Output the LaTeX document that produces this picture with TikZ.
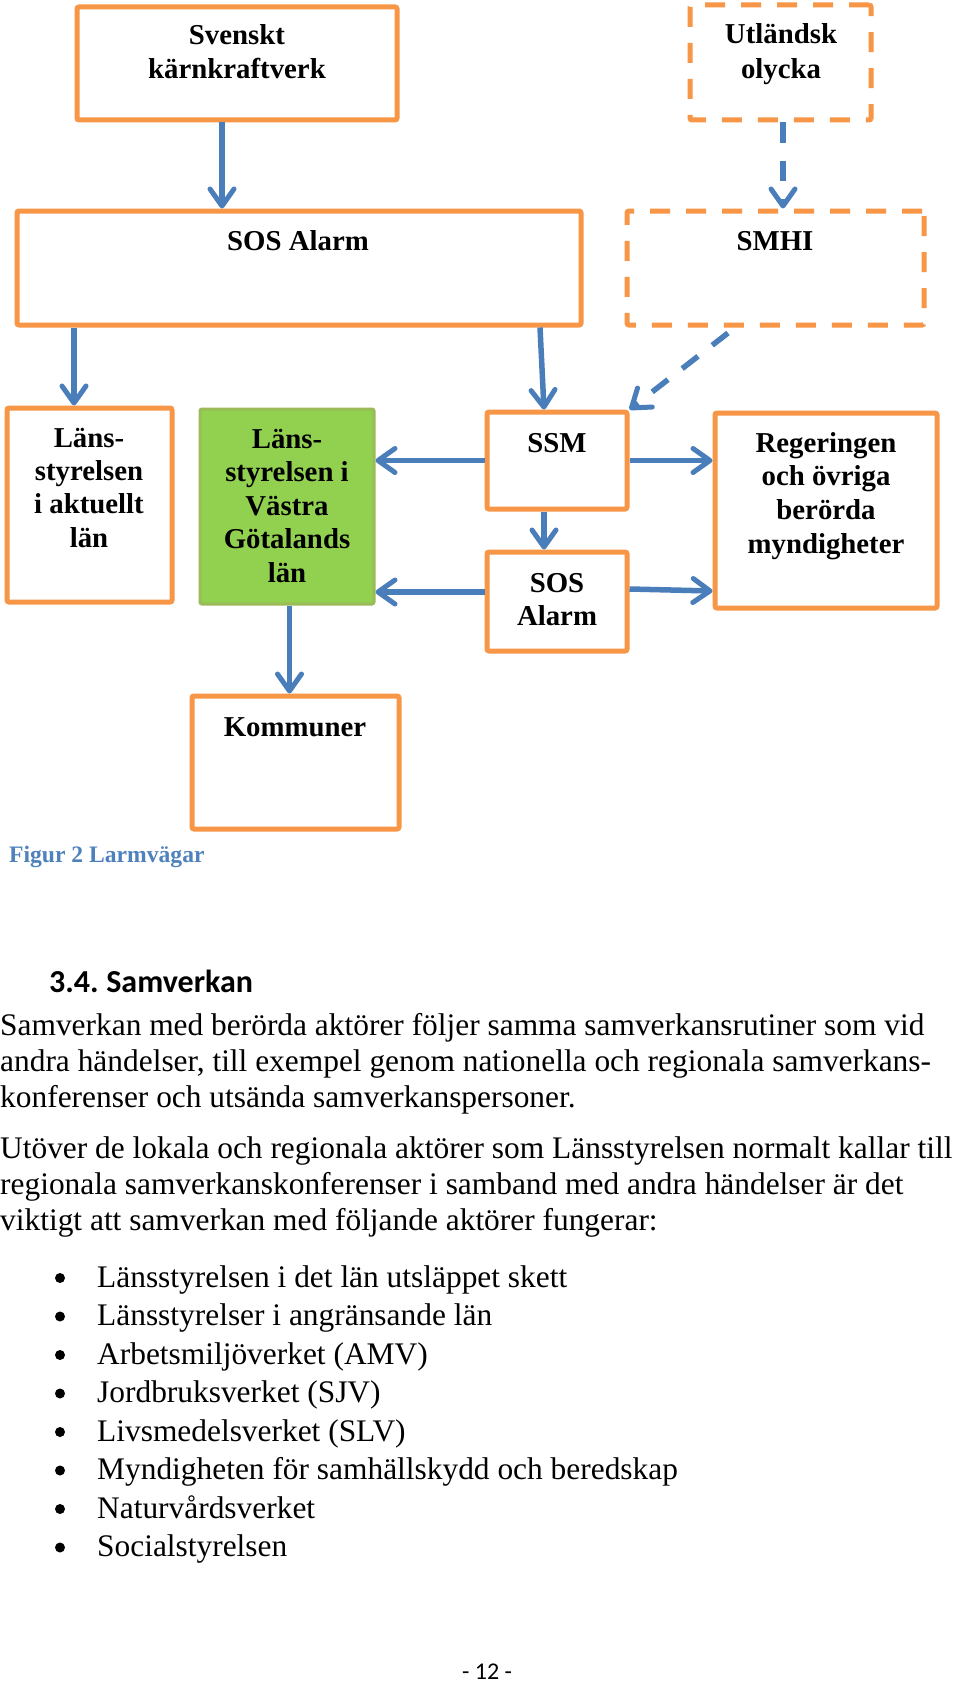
\documentclass[tikz,border=0pt]{standalone}
\usepackage{fontspec}
\setmainfont{Liberation Serif}
\newfontfamily\calib{Carlito}
\usetikzlibrary{arrows.meta}
\definecolor{obox}{RGB}{247,150,70}
\definecolor{barrow}{RGB}{74,126,187}
\definecolor{gfill}{RGB}{146,208,80}
\definecolor{gline}{RGB}{155,187,89}
\definecolor{capblue}{RGB}{79,129,189}
\tikzset{
  obox/.style={draw=obox, line width=5pt, rounded corners=2pt, fill=white, inner sep=0pt, rectangle},
  dbox/.style={obox, dash pattern=on 20pt off 16pt},
  gbox/.style={draw=gline, line width=3pt, rounded corners=2pt, fill=gfill, inner sep=0pt, rectangle},
  lbl/.style={font=\bfseries\fontsize{28.8}{34}\selectfont, anchor=base, inner sep=0pt},
  arr/.style={draw=barrow, line width=5.5pt, -{Straight Barb[length=17pt,width=24pt,line width=5pt,round]}},
  darr/.style={arr, dash pattern=on 20pt off 18pt},
  body/.style={font=\fontsize{31.4}{36}\selectfont, anchor=base west, inner sep=0pt},
  bdot/.style={circle, fill=black, minimum size=10pt, inner sep=0pt},
}
\begin{document}
\begin{tikzpicture}[x=1pt,y=-1pt]
\useasboundingbox[fill=white] (0,0) rectangle (960,1683);
% boxes
\node[obox, minimum width=320pt, minimum height=113pt] (svk) at (237,63.5) {};
\node[dbox, minimum width=181pt, minimum height=115pt] (utl) at (780.5,62.5) {};
\node[obox, minimum width=564pt, minimum height=114pt] (sosA) at (299,268) {};
\node[dbox, minimum width=297pt, minimum height=114pt] (smhi) at (775.5,268) {};
\node[obox, minimum width=165pt, minimum height=194pt] (lanA) at (89.5,505) {};
\node[gbox, minimum width=174pt, minimum height=195pt] (grn) at (287,506.5) {};
\node[obox, minimum width=140pt, minimum height=97pt] (ssm) at (557,460.5) {};
\node[obox, minimum width=140pt, minimum height=99pt] (sosB) at (557,601.5) {};
\node[obox, minimum width=222pt, minimum height=195pt] (reg) at (826,510.5) {};
\node[obox, minimum width=207pt, minimum height=133pt] (kom) at (295.5,762.5) {};
% box texts
\foreach \t [count=\i] in {Svenskt,kärnkraftverk}
  \node[lbl] (svkT\i) at (237,{45+34*(\i-1)}) {\t};
\foreach \t [count=\i] in {Utländsk,olycka}
  \node[lbl] (utlT\i) at (781,{44+35*(\i-1)}) {\t};
\node[lbl] (sosAT) at (298,250) {SOS Alarm};
\node[lbl] (smhiT) at (775,250) {SMHI};
\foreach \t [count=\i] in {Läns-,styrelsen,i aktuellt,län}
  \node[lbl] (lanT\i) at (89,{447+33.4*(\i-1)}) {\t};
\foreach \t [count=\i] in {Läns-,styrelsen i,Västra,Götalands,län}
  \node[lbl] (grnT\i) at (287,{448+33.5*(\i-1)}) {\t};
\node[lbl] (ssmT) at (557,452) {SSM};
\foreach \t [count=\i] in {SOS,Alarm}
  \node[lbl] (sosBT\i) at (557,{592+33*(\i-1)}) {\t};
\foreach \t [count=\i] in {Regeringen,och övriga,berörda,myndigheter}
  \node[lbl] (regT\i) at (826,{452+33.7*(\i-1)}) {\t};
\node[lbl] (komT) at (295,736) {Kommuner};
% arrows
\draw[arr] ([xshift=-15pt]svk.south) -- ([xshift=-15pt]svk.south |- sosA.north);
\draw[darr] ([xshift=2.5pt]utl.south) -- ([xshift=2.5pt]utl.south |- smhi.north);
\draw[arr] ([xshift=-15.5pt]lanA.north |- sosA.south) -- ([xshift=-15.5pt]lanA.north);
\draw[arr] ([xshift=-17pt]ssm.north |- sosA.south) -- ([xshift=-13pt]ssm.north);
\draw[darr] ([xshift=-47.5pt,yshift=-5.5pt]smhi.south) -- (ssm.north east);
\draw[arr] (ssm.west) -- (ssm.west -| grn.east);
\draw[arr] (ssm.east) -- (ssm.east -| reg.west);
\draw[arr] ([xshift=-13pt]ssm.south) -- ([xshift=-13pt]sosB.north);
\draw[arr] ([yshift=9.5pt]sosB.west) -- ([yshift=9.5pt]sosB.west -| grn.east);
\draw[arr] ([yshift=12.5pt]sosB.east) -- ([yshift=-80.5pt]reg.west);
\draw[arr] ([xshift=-6pt]kom.north |- grn.south) -- ([xshift=-6pt]kom.north);
% caption
\node[font=\bfseries\fontsize{23.6}{28}\selectfont, text=capblue, anchor=base west, inner sep=0pt] (cap) at (9,862) {Figur 2 Larmvägar};
% heading
\node[font=\calib\bfseries\fontsize{32}{38}\selectfont, anchor=base west, inner sep=0pt] (head) at (49,992) {3.4.\hspace{-2pt} Samverkan};
% body
\node[body] (p1) at (0,1035) {Samverkan med berörda aktörer följer samma samverkansrutiner som vid};
\node[body] (p2) at (0,1071) {andra händelser, till exempel genom nationella och regionala samverkans-};
\node[body] (p3) at (0,1107) {konferenser och utsända samverkanspersoner.};
\node[body] (q1) at (0,1158) {Utöver de lokala och regionala aktörer som Länsstyrelsen normalt kallar till};
\node[body] (q2) at (0,1194) {regionala samverkanskonferenser i samband med andra händelser är det};
\node[body] (q3) at (0,1230) {viktigt att samverkan med följande aktörer fungerar:};
% bullets
\foreach \t [count=\i] in {Länsstyrelsen i det län utsläppet skett,Länsstyrelser i angränsande län,Arbetsmiljöverket (AMV),Jordbruksverket (SJV),Livsmedelsverket (SLV),Myndigheten för samhällskydd och beredskap,Naturvårdsverket,Socialstyrelsen}{
  \node[bdot] (bd\i) at (60,{1287-9+38.5*(\i-1)}) {};
  \node[body] (bt\i) at (97,{1287+38.5*(\i-1)}) {\t};
}
% page number
\node[font=\calib\fontsize{24}{28}\selectfont, anchor=base, inner sep=0pt] (pg) at (487,1679) {- 12 -};
\end{tikzpicture}
\end{document}
